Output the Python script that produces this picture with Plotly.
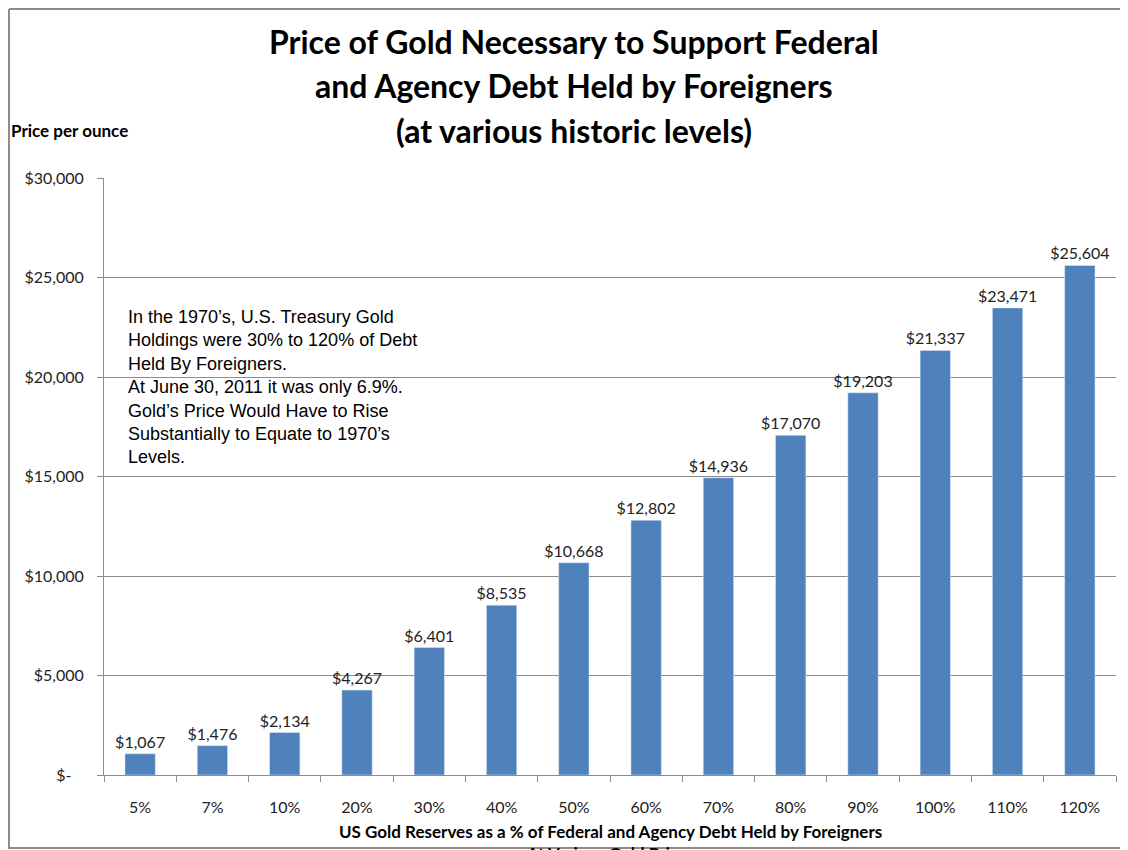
import plotly.graph_objects as go

categories = ["5%", "7%", "10%", "20%", "30%", "40%", "50%", "60%", "70%",
              "80%", "90%", "100%", "110%", "120%"]
prices = [1067, 1476, 2134, 4267, 6401, 8535, 10668, 12802, 14936,
          17070, 19203, 21337, 23471, 25604]
y_ticks = [0, 5000, 10000, 15000, 20000, 25000, 30000]
y_ticktext = ["$-" + "\u00a0" * 3, "$5,000", "$10,000", "$15,000",
              "$20,000", "$25,000", "$30,000"]
title_lines = ["Price of Gold Necessary to Support Federal",
               "and Agency Debt Held by Foreigners",
               "(at various historic levels)"]

BAR_COLOR = "#4F81BD"
GRID_COLOR = "#8C8C8C"
FONT = "Lato"

note = ("In the 1970’s, U.S. Treasury Gold<br>"
        "Holdings were 30% to 120% of Debt<br>"
        "Held By Foreigners.<br>"
        "At June 30, 2011 it was only 6.9%.<br>"
        "Gold’s Price Would Have to Rise<br>"
        "Substantially to Equate to 1970’s<br>"
        "Levels.")

# plot area in page pixels: x 104..1116, y 178..775 (page has an 8px body margin)
PLOT_W = 1012.0
PLOT_H = 597.0


def px_x(x):
    return (x - 104) / PLOT_W


def px_y(y):
    return (775 - y) / PLOT_H


fig = go.Figure(
    go.Bar(
        x=categories,
        y=prices,
        marker_color=BAR_COLOR,
        width=0.42,
        text=[f"${v:,}" for v in prices],
        textposition="outside",
        constraintext="none",
        textfont=dict(family=FONT, size=16, color="#222"),
        cliponaxis=False,
    )
)

annotations = []
for i, line in enumerate(title_lines):
    annotations.append(dict(
        text=f"<b>{line}</b>", xref="paper", yref="paper",
        x=0.464, y=px_y(42 + 44 * i),
        xanchor="center", yanchor="middle", showarrow=False,
        font=dict(family=FONT, size=32, color="black"),
    ))

annotations += [
    dict(text="<b>Price per ounce</b>", xref="paper", yref="paper",
         x=px_x(9), y=px_y(131), xanchor="left", yanchor="middle",
         showarrow=False, font=dict(family=FONT, size=17, color="black")),
    dict(text=note, xref="paper", yref="paper",
         x=px_x(126), y=px_y(305), xanchor="left", yanchor="top",
         align="left", showarrow=False,
         font=dict(family="Liberation Sans", size=18, color="black")),
    dict(text="<b>US Gold Reserves as a % of Federal and Agency Debt Held by Foreigners"
              "<br>At Various Gold Prices</b>",
         xref="paper", yref="paper", x=0.5, y=px_y(819),
         xanchor="center", yanchor="top", showarrow=False,
         font=dict(family=FONT, size=17, color="black")),
]

frame = dict(color="#8C8C8C", width=2)

fig.update_layout(
    width=1120,
    height=842,
    margin=dict(l=96, r=12, t=170, b=75),
    plot_bgcolor="white",
    paper_bgcolor="white",
    showlegend=False,
    font=dict(family=FONT, size=15, color="#222"),
    xaxis=dict(
        type="category",
        tickson="boundaries",
        ticks="outside",
        ticklen=6,
        tickcolor=GRID_COLOR,
        showline=True,
        linecolor=GRID_COLOR,
        showgrid=False,
        ticklabelstandoff=18,
        tickfont=dict(family=FONT, size=16, color="#222"),
    ),
    yaxis=dict(
        range=[0, 30000],
        tickvals=y_ticks,
        ticktext=y_ticktext,
        ticks="outside",
        ticklen=6,
        tickcolor=GRID_COLOR,
        showline=True,
        linecolor=GRID_COLOR,
        gridcolor=GRID_COLOR,
        zeroline=False,
        ticklabelstandoff=10,
        tickfont=dict(family=FONT, size=16, color="#222"),
    ),
    shapes=[
        # outer chart frame, kept inside the figure
        dict(type="line", xref="paper", yref="paper",
             x0=px_x(9), x1=px_x(1127), y0=px_y(9), y1=px_y(9), line=frame),
        dict(type="line", xref="paper", yref="paper",
             x0=px_x(9), x1=px_x(9), y0=px_y(9), y1=px_y(849), line=frame),
        dict(type="line", xref="paper", yref="paper",
             x0=px_x(9), x1=px_x(1127), y0=px_y(848), y1=px_y(848), line=frame),
    ],
    annotations=annotations,
)

fig.write_html("out.html")
